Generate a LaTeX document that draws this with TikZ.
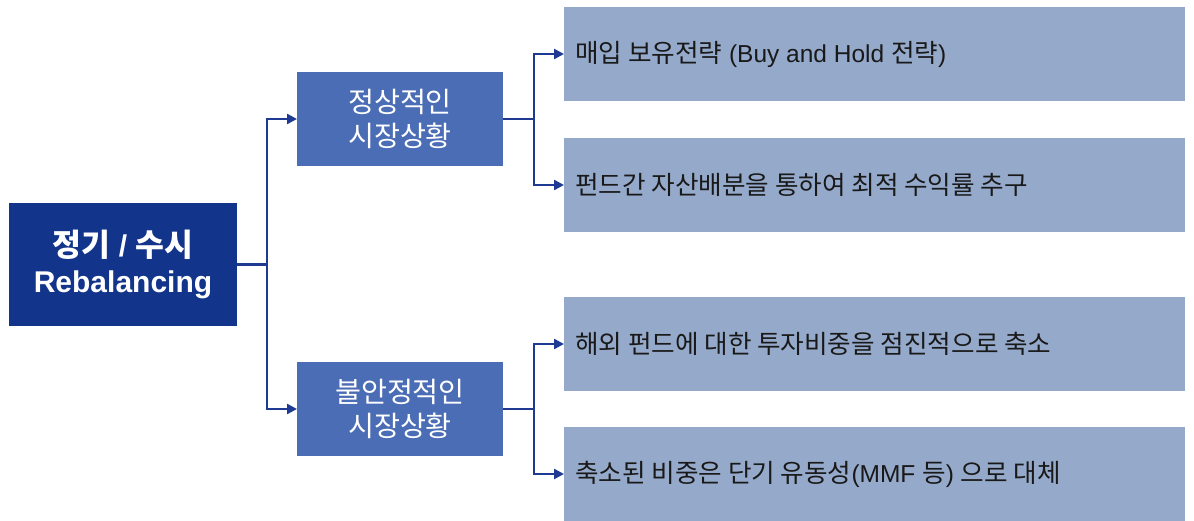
\documentclass[tikz,border=0pt]{standalone}
\usepackage{fontspec}
\setmainfont{Liberation Sans}
\newfontfamily\kr[Scale=1.045]{Noto Sans CJK KR}
\usetikzlibrary{arrows.meta}
\definecolor{navy}{HTML}{12348A}
\definecolor{midblue}{HTML}{4A6DB5}
\definecolor{lightblue}{HTML}{95AACB}
\definecolor{linecol}{HTML}{1F3A93}
\begin{document}
\begin{tikzpicture}[x=1pt,y=-1pt,
  rootbox/.style={fill=navy,text=white,font=\bfseries\fontsize{30}{36}\selectfont,align=center,inner sep=0pt},
  midbox/.style={fill=midblue,text=white,font=\fontsize{27}{34}\selectfont,align=center,inner sep=0pt},
  leafbox/.style={fill=lightblue,text=black!90,font=\fontsize{24.5}{28}\selectfont,inner sep=0pt},
  conn/.style={draw=linecol,line width=2.4pt,-{Triangle[length=10pt,width=10pt]}}]
\useasboundingbox (0,0) rectangle (1194,521);
% root
\path[fill=navy] (9,203) rectangle (237,326);
\node[rootbox] (root) at (123,264.5) {{\kr 정기} / {\kr 수시}\\Rebalancing};
\coordinate (rootR) at (237,264.5);
% mid boxes
\path[fill=midblue] (297,72) rectangle (503,166);
\node[midbox] (m1) at (400,119) {\kr 정상적인\\\kr 시장상황};
\path[fill=midblue] (297,362) rectangle (503,456);
\node[midbox] (m2) at (400,409) {\kr 불안정적인\\\kr 시장상황};
\coordinate (m1L) at (297,119);
\coordinate (m1R) at (503,119);
\coordinate (m2L) at (297,409);
\coordinate (m2R) at (503,409);
% leaf boxes
\path[fill=lightblue] (564,7) rectangle (1185,101);
\path[fill=lightblue] (564,138) rectangle (1185,232);
\path[fill=lightblue] (564,297) rectangle (1185,391);
\path[fill=lightblue] (564,427) rectangle (1185,521);
\node[leafbox,anchor=west] (l1) at (575,54) {{\kr 매입 보유전략} (Buy and Hold {\kr 전략})};
\node[leafbox,anchor=west] (l2) at (575,185) {\kr 펀드간 자산배분을 통하여 최적 수익률 추구};
\node[leafbox,anchor=west] (l3) at (575,344) {\kr 해외 펀드에 대한 투자비중을 점진적으로 축소};
\node[leafbox,anchor=west] (l4) at (575,474) {{\kr 축소된 비중은 단기 유동성}(MMF {\kr 등}) {\kr 으로 대체}};
\coordinate (l1L) at (564,54);
\coordinate (l2L) at (564,185);
\coordinate (l3L) at (564,344);
\coordinate (l4L) at (564,474);
% connectors
\draw[conn] (rootR) -- (267,264.5) |- (m1L);
\draw[conn] (rootR) -- (267,264.5) |- (m2L);
\draw[conn] (m1R) -- (534,119) |- (l1L);
\draw[conn] (m1R) -- (534,119) |- (l2L);
\draw[conn] (m2R) -- (534,409) |- (l3L);
\draw[conn] (m2R) -- (534,409) |- (l4L);
\end{tikzpicture}
\end{document}
